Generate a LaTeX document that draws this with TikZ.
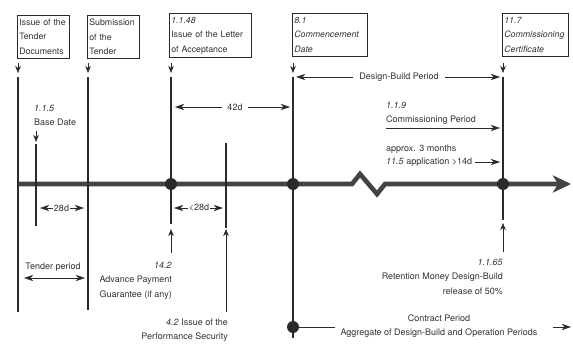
\documentclass[tikz,border=0pt]{standalone}
\usepackage{fontspec}
\setmainfont{TeX Gyre Heros}
\usetikzlibrary{arrows.meta}
\definecolor{ink}{HTML}{2A2A2A}
\definecolor{txt}{HTML}{333333}
\definecolor{axisc}{HTML}{434343}
\begin{document}
\begin{tikzpicture}[x=1pt,y=-1pt,
  every node/.style={font=\fontsize{9}{14.5}\selectfont, text=txt},
  box/.style={draw=ink, line width=0.6pt, anchor=north west, align=left,
    inner xsep=2pt, inner ysep=3.5pt, minimum height=43pt,
    font=\fontsize{8.8}{14.5}\selectfont},
  vline/.style={draw=ink, line width=2.6pt},
  thinl/.style={draw=ink, line width=0.5pt},
  dim/.style={thinl, -{Stealth[length=9pt,width=6pt,inset=2.5pt]}},
  dimboth/.style={thinl, {Stealth[length=9pt,width=6pt,inset=2.5pt]}-{Stealth[length=9pt,width=6pt,inset=2.5pt]}},
  drop/.style={thinl, -{Stealth[length=7pt,width=5.5pt,inset=2pt]}},
  dot/.style={circle, fill=ink, inner sep=0pt, minimum size=12pt},
  lbl/.style={inner sep=0pt},
  dimtxt/.style={inner xsep=5pt, inner ysep=1pt},
]
\useasboundingbox (0,0) rectangle (573,356);
\fill[white] (0,0) rectangle (573,356);

% ---- boxes ----
\node[box, text width=48pt] (b1) at (17,15) {Issue of the\\Tender\\Documents};
\node[box, text width=48pt] (b2) at (87,15) {Submission\\of the\\Tender};
\node[box, text width=78pt] (b3) at (169,13) {\textit{1.1.48}\\Issue of the Letter\\of Acceptance};
\node[box, text width=71pt] (b4) at (292,13) {\textit{8.1}\\\textit{Commencement}\\\textit{Date}};
\node[box, text width=62pt] (b5) at (502,13) {\textit{11.7}\\\textit{Commissioning}\\\textit{Certificate}};

% ---- coordinates ----
\foreach \n/\x in {1/18,2/88,3/171,5/293,6/503}{
  \coordinate (d\n a) at (\x,63);
  \coordinate (d\n b) at (\x,73);
  \coordinate (v\n t) at (\x,77);
}
\coordinate (v1b) at (18,312);
\coordinate (v2b) at (88,310);
\coordinate (v3b) at (171,224);
\coordinate (v5b) at (293,338);
\coordinate (v6b) at (503,220);
\coordinate (v4t) at (226,143);
\coordinate (v4b) at (226,228);
\coordinate (v0t) at (36,144);
\coordinate (v0b) at (36,226);
\coordinate (d0a) at (36,131);
\coordinate (d0b) at (36,142);

% ---- main axis ----
\coordinate (ax0) at (17,184);
\coordinate (zz1) at (352,184);
\coordinate (zz2) at (360,174);
\coordinate (zz3) at (377,194);
\coordinate (zz4) at (385,184);
\coordinate (ax1) at (571,184);
\draw[draw=axisc, line width=4.6pt, line join=miter,
  -{Stealth[length=18pt,width=17pt,inset=5pt]}]
  (ax0) -- (zz1) -- (zz2) -- (zz3) -- (zz4) -- (ax1);

% ---- vertical lines ----
\foreach \n in {1,2,3,5,6}{
  \draw[drop] (d\n a) -- (d\n b);
  \draw[vline] (v\n t) -- (v\n b);
}
\draw[vline] (v4t) -- (v4b);
\draw[vline] (v0t) -- (v0b);
\draw[drop] (d0a) -- (d0b);

% ---- dots ----
\node[dot] (p3) at (171,184) {};
\node[dot] (p5) at (293,184) {};
\node[dot] (p6) at (503,184) {};
\node[dot] (p7) at (293,327) {};

% ---- labels and dimensions ----
\node[lbl, anchor=north west, align=left] (bd) at (34,104.5) {\textit{1.1.5}\\Base Date};

\node[dimtxt] (t42) at (235,107) {42d};
\coordinate (t42l) at (175,107);
\coordinate (t42r) at (290,107);
\draw[dim] (t42) -- (t42l);
\draw[dim] (t42) -- (t42r);

\node[dimtxt, inner xsep=6pt] (tdb) at (399,77) {Design-Build Period};
\coordinate (tdbl) at (296,77);
\coordinate (tdbr) at (500,77);
\draw[dim] (tdb) -- (tdbl);
\draw[dim] (tdb) -- (tdbr);

\node[lbl, anchor=north west, align=left] (cp119) at (386,101.5) {\textit{1.1.9}\\Commissioning Period};
\coordinate (cpa) at (386,128);
\coordinate (cpb) at (500,128);
\draw[dim] (cpa) -- (cpb);

\node[lbl, anchor=north west, align=left] (ap) at (386,144.5) {approx. 3 months};
\node[lbl, anchor=west] (app) at (386,162) {\textit{11.5} application >14d};
\coordinate (appr) at (500,162);
\draw[dim] ([xshift=3pt]app.east) -- (appr);

\node[dimtxt, inner xsep=1pt] (t28a) at (61.5,208) {28d};
\coordinate (t28al) at (40,208);
\coordinate (t28ar) at (84,208);
\draw[dim] (t28a) -- (t28al);
\draw[dim] (t28a) -- (t28ar);

\node[dimtxt, inner xsep=1pt] (t28b) at (199,208) {<28d};
\coordinate (t28bl) at (174,208);
\coordinate (t28br) at (223,208);
\draw[dim] (t28b) -- (t28bl);
\draw[dim] (t28b) -- (t28br);

\node[lbl] (tp) at (53,267) {Tender period};
\coordinate (tpl) at (24,278);
\coordinate (tpr) at (85,278);
\draw[dimboth] (tpl) -- (tpr);

% 14.2
\coordinate (u3a) at (171,253);
\coordinate (u3b) at (171,229);
\draw[drop] (u3a) -- (u3b);
\node[lbl, anchor=north east, align=right] (apg) at (172,261.5) {\textit{14.2}\\Advance Payment\\Guarantee (if any)};

% 4.2
\coordinate (u4a) at (226,312);
\coordinate (u4b) at (226,229);
\draw[drop] (u4a) -- (u4b);
\node[lbl, anchor=north east, align=right] (ps) at (228,318.5) {\textit{4.2} Issue of the\\Performance Security};

% 1.1.65
\coordinate (u6a) at (503,252);
\coordinate (u6b) at (503,223);
\draw[drop] (u6a) -- (u6b);
\node[lbl, anchor=north east, align=right] (rm) at (503,258.5) {\textit{1.1.65}\\Retention Money Design-Build\\release of 50\%};

% contract period
\node[lbl, align=center, inner xsep=5pt] (cp) at (439,326) {Contract Period\\Aggregate of Design-Build and Operation Periods};
\coordinate (cpe1) at (553,327);
\coordinate (cpe2) at (571,327);
\draw[thinl] (p7.center) -- (cp.west |- p7.center);
\draw[dim] (cpe1) -- (cpe2);
\end{tikzpicture}
\end{document}
